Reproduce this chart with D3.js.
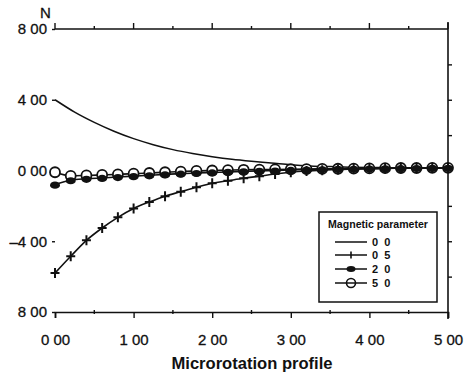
<!DOCTYPE html>
<html>
<head>
<meta charset="utf-8">
<script src="https://cdn.jsdelivr.net/npm/d3@7"></script>
<style>
  body { margin: 0; background: #fff; }
  svg { display: block; }
</style>
</head>
<body>
<svg id="chart" width="469" height="376"></svg>
<script>
// line-only series (M = 0.0)
var xLine = [0, 0.25, 0.5, 0.75, 1, 1.25, 1.5, 1.75, 2, 2.25, 2.5, 2.75, 3, 3.25, 3.5, 3.75, 4, 4.25, 4.5, 4.75, 5];
var m00 = [4.0, 3.3, 2.72, 2.22, 1.8, 1.46, 1.18, 0.96, 0.78, 0.63, 0.52, 0.43, 0.33, 0.26, 0.22, 0.19, 0.17, 0.16, 0.15, 0.15, 0.15];

// marker series (M = 0.5, 2.0, 5.0)
var xMk = [0, 0.2, 0.4, 0.6, 0.8, 1.0, 1.2, 1.4, 1.6, 1.8, 2.0, 2.2, 2.4, 2.6, 2.8, 3.0, 3.2, 3.4, 3.6, 3.8, 4.0, 4.2, 4.4, 4.6, 4.8, 5.0];
var m05 = [-5.8, -4.85, -3.95, -3.25, -2.65, -2.15, -1.78, -1.45, -1.2, -0.95, -0.72, -0.58, -0.44, -0.32, -0.2, -0.1, -0.03, 0.02, 0.06, 0.08, 0.1, 0.12, 0.13, 0.14, 0.15, 0.15];
var m20 = [-0.8, -0.55, -0.47, -0.42, -0.37, -0.32, -0.27, -0.22, -0.18, -0.14, -0.11, -0.08, -0.05, -0.02, 0, 0.03, 0.05, 0.07, 0.09, 0.1, 0.11, 0.12, 0.13, 0.14, 0.15, 0.15];
var m50 = [-0.1, -0.3, -0.28, -0.25, -0.22, -0.18, -0.14, -0.1, -0.06, -0.02, 0, 0.02, 0.04, 0.05, 0.06, 0.07, 0.08, 0.09, 0.1, 0.11, 0.12, 0.13, 0.14, 0.14, 0.15, 0.15];

var legendLabels = ["0 0", "0 5", "2 0", "5 0"];
var xTickVals = [0, 1, 2, 3, 4, 5];
var xTickLabels = ["0 00", "1 00", "2 00", "3 00", "4 00", "5 00"];
var xMinor = [0.5, 1.5, 2.5, 3.5, 4.5];
var yTickVals = [8, 4, 0, -4, -8];
var yTickLabels = ["8 00", "4 00", "0 00", "\u20134 00", "8 00"];

var svg = d3.select("#chart");
var font = "'Liberation Sans', Arial, sans-serif";
var ink = "#111";

var x = d3.scaleLinear().domain([0, 5]).range([55, 448]);
var y = d3.scaleLinear().domain([-8, 8]).range([312, 29]);

//top frame with outward ticks
var topFrame = svg.append("g").attr("transform", "translate(0," + y(8) + ")");
topFrame.append("line").attr("x1", x(0)).attr("x2", x(5)).attr("stroke", ink).attr("stroke-width", 1.6);
topFrame.selectAll(".maj").data(xTickVals).enter().append("line")
  .attr("x1", function(d){ return x(d); }).attr("x2", function(d){ return x(d); })
  .attr("y1", 0).attr("y2", -6).attr("stroke", ink).attr("stroke-width", 1.4);
topFrame.selectAll(".min").data(xMinor).enter().append("line")
  .attr("x1", function(d){ return x(d); }).attr("x2", function(d){ return x(d); })
  .attr("y1", 0).attr("y2", -3).attr("stroke", ink).attr("stroke-width", 1.4);

//bottom axis
var xAxis = svg.append("g")
  .attr("transform", "translate(0," + y(-8) + ")")
  .call(d3.axisBottom(x).tickValues(xTickVals).tickSize(6).tickPadding(16)
    .tickFormat(function(d, i){ return xTickLabels[i]; }));
xAxis.select(".domain").attr("stroke", ink).attr("stroke-width", 1.6);
xAxis.selectAll(".tick line").attr("stroke", ink).attr("stroke-width", 1.4);
xAxis.selectAll("text").style("font", "15px " + font).attr("fill", ink)
  .attr("stroke", ink).attr("stroke-width", 0.3);
svg.append("g").selectAll("line").data(xMinor).enter().append("line")
  .attr("x1", function(d){ return x(d); }).attr("x2", function(d){ return x(d); })
  .attr("y1", y(-8) - 2).attr("y2", y(-8) + 2).attr("stroke", ink).attr("stroke-width", 1.4);

//left labels, no axis line
var yAxis = svg.append("g")
  .attr("transform", "translate(" + x(0) + ",0)")
  .call(d3.axisLeft(y).tickValues(yTickVals).tickSize(3).tickPadding(5)
    .tickFormat(function(d, i){ return yTickLabels[i]; }));
yAxis.select(".domain").remove();
yAxis.selectAll(".tick line").attr("stroke", ink).attr("stroke-width", 1.4);
yAxis.selectAll("text").style("font", "15px " + font).attr("fill", ink)
  .attr("stroke", ink).attr("stroke-width", 0.3);

//right axis
var rAxis = svg.append("g")
  .attr("transform", "translate(" + x(5) + ",0)")
  .call(d3.axisRight(y).tickValues([-6, -4, -2, 2, 4, 6]).tickSize(4).tickFormat(""));
rAxis.select(".domain").attr("d", "M0," + (y(8) - 7) + "V" + (y(-8) + 7)).attr("stroke", ink).attr("stroke-width", 1.6);
rAxis.selectAll(".tick line").attr("stroke", ink).attr("stroke-width", 1.4);

svg.append("text").attr("x", 40).attr("y", 18)
  .style("font", "15px " + font).attr("fill", ink).attr("stroke", ink).attr("stroke-width", 0.3).text("N");

svg.append("text").attr("x", 252).attr("y", 369).attr("text-anchor", "middle")
  .attr("textLength", 161).attr("lengthAdjust", "spacingAndGlyphs")
  .style("font", "bold 16px " + font).attr("fill", ink)
  .text("Microrotation profile");

var line = d3.line().x(function(d){ return x(d[0]); }).y(function(d){ return y(d[1]); }).curve(d3.curveMonotoneX);
function pairs(xs, ys){ return xs.map(function(v, i){ return [v, ys[i]]; }); }

var plus = "M-4.5,0H4.5M0,-5V5";

// series lines
svg.append("path").attr("d", line(pairs(xLine, m00))).attr("fill", "none").attr("stroke", ink).attr("stroke-width", 1.5);
svg.append("path").attr("d", line(pairs(xMk, m50))).attr("fill", "none").attr("stroke", ink).attr("stroke-width", 1.6);
svg.append("path").attr("d", line(pairs(xMk, m20))).attr("fill", "none").attr("stroke", ink).attr("stroke-width", 1.6);
svg.append("path").attr("d", line(pairs(xMk, m05))).attr("fill", "none").attr("stroke", ink).attr("stroke-width", 1.6);

// M = 5.0 open circles
svg.append("g").selectAll("circle").data(pairs(xMk, m50)).enter().append("circle")
  .attr("cx", function(d){ return x(d[0]); }).attr("cy", function(d){ return y(d[1]); })
  .attr("r", 5).attr("fill", "#fff").attr("stroke", ink).attr("stroke-width", 1.8);

// M = 2.0 filled markers
svg.append("g").selectAll("ellipse").data(pairs(xMk, m20)).enter().append("ellipse")
  .attr("cx", function(d){ return x(d[0]); }).attr("cy", function(d){ return y(d[1]) + 0.5; })
  .attr("rx", 5).attr("ry", 3.6).attr("fill", ink);

// M = 0.5 plus markers
svg.append("g").selectAll("path").data(pairs(xMk, m05)).enter().append("path")
  .attr("transform", function(d){ return "translate(" + x(d[0]) + "," + y(d[1]) + ")"; })
  .attr("d", plus).attr("stroke", ink).attr("stroke-width", 2).attr("fill", "none");

//legend
var lg = svg.append("g");
lg.append("rect").attr("x", 319).attr("y", 212).attr("width", 118).attr("height", 90)
  .attr("fill", "#fff").attr("stroke", ink).attr("stroke-width", 1.5);
lg.append("text").attr("x", 328).attr("y", 228)
  .attr("textLength", 100).attr("lengthAdjust", "spacingAndGlyphs")
  .style("font", "bold 11px " + font).attr("fill", ink)
  .text("Magnetic parameter");

var rows = [242, 255, 269, 283];
legendLabels.forEach(function(lab, i){
  var ry = rows[i];
  lg.append("line").attr("x1", 335).attr("x2", 367).attr("y1", ry).attr("y2", ry)
    .attr("stroke", ink).attr("stroke-width", 1.5);
  if (i == 1) lg.append("path").attr("transform", "translate(351," + ry + ")").attr("d", "M0,-3.5V3.5").attr("stroke", ink).attr("stroke-width", 1.6);
  if (i == 2) lg.append("ellipse").attr("cx", 351).attr("cy", ry).attr("rx", 4.5).attr("ry", 3).attr("fill", ink);
  if (i == 3) lg.append("circle").attr("cx", 351).attr("cy", ry).attr("r", 4.5).attr("fill", "none").attr("stroke", ink).attr("stroke-width", 1.6);
  lg.append("text").attr("x", 372).attr("y", ry + 4)
    .style("font", "bold 11px " + font).style("letter-spacing", "1.5px").attr("fill", ink)
    .text(lab);
});
</script>
</body>
</html>
